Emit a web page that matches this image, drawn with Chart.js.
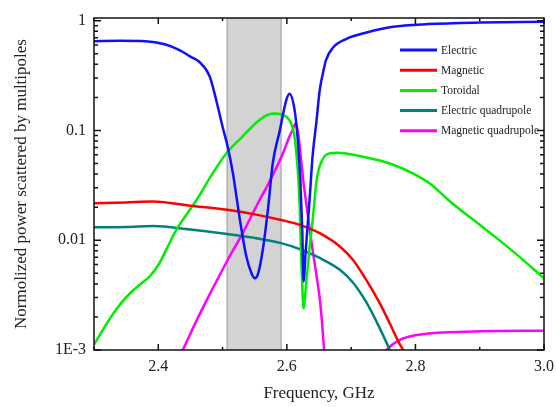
<!DOCTYPE html>
<html>
<head>
<meta charset="utf-8">
<script src="https://cdn.jsdelivr.net/npm/chart.js@4.4.1/dist/chart.umd.min.js"></script>
<style>
  html, body { margin: 0; padding: 0; background: #fff; }
</style>
</head>
<body>
<canvas id="chart" width="556" height="407"></canvas>
<script>
// --- Data (frequency in GHz, normalized power) ---
const electricFreq = [2.30, 2.34, 2.38, 2.41, 2.433, 2.45, 2.464, 2.48, 2.49, 2.50, 2.508, 2.516, 2.527, 2.537, 2.545, 2.55, 2.555, 2.563, 2.571, 2.578, 2.589, 2.599, 2.604, 2.612, 2.617, 2.621, 2.624, 2.626, 2.629, 2.632, 2.635, 2.640, 2.646, 2.651, 2.656, 2.661, 2.672, 2.692, 2.724, 2.765, 2.82, 2.90, 3.00];
const electric = [0.65, 0.655, 0.65, 0.61, 0.54, 0.47, 0.42, 0.31, 0.19, 0.108, 0.071, 0.041, 0.0153, 0.0071, 0.0050, 0.0045, 0.0049, 0.0085, 0.020, 0.050, 0.10, 0.188, 0.216, 0.154, 0.082, 0.035, 0.012, 0.0042, 0.0075, 0.013, 0.022, 0.058, 0.12, 0.23, 0.33, 0.44, 0.57, 0.68, 0.78, 0.88, 0.93, 0.96, 0.975];

const magneticFreq = [2.30, 2.35, 2.392, 2.45, 2.507, 2.55, 2.591, 2.62, 2.651, 2.682, 2.703, 2.724, 2.744, 2.760, 2.775, 2.781, 2.79];
const magnetic = [0.0217, 0.0221, 0.0225, 0.0206, 0.0189, 0.0172, 0.0153, 0.0138, 0.0116, 0.0088, 0.0066, 0.0043, 0.0027, 0.00175, 0.00115, 0.001, 0.0008];

const toroidalFreq = [2.30, 2.324, 2.345, 2.361, 2.375, 2.387, 2.402, 2.415, 2.428, 2.445, 2.459, 2.485, 2.506, 2.531, 2.552, 2.568, 2.580, 2.592, 2.600, 2.606, 2.611, 2.615, 2.618, 2.620, 2.6215, 2.6235, 2.626, 2.630, 2.635, 2.640, 2.643, 2.646, 2.650, 2.654, 2.661, 2.677, 2.69, 2.718, 2.76, 2.796, 2.825, 2.852, 2.90, 2.926, 2.96, 3.00];
const toroidal = [0.00112, 0.0019, 0.0028, 0.0035, 0.0041, 0.0047, 0.0062, 0.0088, 0.0124, 0.0175, 0.023, 0.041, 0.062, 0.088, 0.117, 0.137, 0.143, 0.14, 0.132, 0.118, 0.095, 0.06, 0.035, 0.020, 0.0095, 0.0045, 0.0024, 0.004, 0.0082, 0.015, 0.023, 0.034, 0.045, 0.052, 0.060, 0.0625, 0.062, 0.0575, 0.050, 0.0406, 0.032, 0.023, 0.0138, 0.0105, 0.0072, 0.0045];

const eQuadFreq = [2.30, 2.35, 2.392, 2.45, 2.507, 2.55, 2.591, 2.62, 2.651, 2.682, 2.703, 2.724, 2.744, 2.760, 2.77];
const eQuad = [0.0131, 0.0132, 0.0135, 0.0125, 0.0114, 0.0105, 0.0094, 0.0083, 0.0069, 0.0054, 0.0041, 0.0027, 0.0016, 0.001, 0.0007];

// magnetic quadrupole leaves the plot and comes back, so it is two pieces
const mQuadFreqA = [2.425, 2.438, 2.464, 2.506, 2.532, 2.558, 2.568, 2.594, 2.604, 2.609, 2.614, 2.618, 2.622, 2.626, 2.630, 2.636, 2.641, 2.646, 2.651, 2.655, 2.658, 2.662];
const mQuadA = [0.0007, 0.001, 0.0021, 0.0063, 0.0118, 0.0235, 0.030, 0.062, 0.088, 0.101, 0.117, 0.09, 0.055, 0.033, 0.022, 0.012, 0.0075, 0.0048, 0.003, 0.0017, 0.001, 0.0006];
const mQuadFreqB = [2.745, 2.755, 2.775, 2.80, 2.85, 2.90, 3.00];
const mQuadB = [0.0008, 0.001, 0.00123, 0.00136, 0.00145, 0.00148, 0.0015];

const seriesNames = ['Electric', 'Magnetic', 'Toroidal', 'Electric quadrupole', 'Magnetic quadrupole'];
const seriesColors = ['#1010ff', '#ff0000', '#00ee00', '#008080', '#ff00ff'];

const bandRange = [2.507, 2.591];          // shaded frequency band
const xRange = [2.3, 3.0];
const yRange = [0.001, 1.057];
const xLabelTicks = [2.4, 2.6, 2.8, 3.0];
const xMinorTicks = [2.3, 2.4, 2.5, 2.6, 2.7, 2.8, 2.9, 3.0];
const yLabelTicks = [0.001, 0.01, 0.1, 1];
const yTickText = { 1: '1', 0.1: '0.1', 0.01: '0.01', 0.001: '1E-3' };

const SERIF = '"Liberation Serif", "Times New Roman", serif';

const toPoints = (xs, ys) => xs.map((f, i) => ({ x: f, y: ys[i] }));

function lineSet(label, xs, ys, color) {
    return {
        label: label,
        data: toPoints(xs, ys),
        borderColor: color,
        backgroundColor: color,
        borderWidth: 2.5,
        pointRadius: 0,
        cubicInterpolationMode: 'monotone',
        fill: false
    };
}

// band, frame, inward ticks and the in-plot legend
const decorations = {
    id: 'decorations',
    beforeDatasetsDraw(chart) {
        const { ctx, chartArea: a, scales: { x } } = chart;
        const x0 = x.getPixelForValue(bandRange[0]);
        const x1 = x.getPixelForValue(bandRange[1]);
        ctx.save();
        ctx.fillStyle = '#d3d3d3';
        ctx.fillRect(x0, a.top, x1 - x0, a.bottom - a.top);
        ctx.strokeStyle = '#999999';
        ctx.lineWidth = 1;
        ctx.beginPath();
        ctx.moveTo(x0, a.top); ctx.lineTo(x0, a.bottom);
        ctx.moveTo(x1, a.top); ctx.lineTo(x1, a.bottom);
        ctx.stroke();
        ctx.restore();
    },
    afterDraw(chart) {
        const { ctx, chartArea: a, scales: { x, y } } = chart;
        ctx.save();
        ctx.strokeStyle = '#111';
        ctx.lineWidth = 1.5;
        ctx.strokeRect(a.left, a.top, a.right - a.left, a.bottom - a.top);

        ctx.beginPath();
        xMinorTicks.forEach(v => {
            const px = x.getPixelForValue(v);
            const len = xLabelTicks.some(t => Math.abs(t - v) < 1e-6) ? 6 : 3;
            ctx.moveTo(px, a.bottom); ctx.lineTo(px, a.bottom - len);
            ctx.moveTo(px, a.top); ctx.lineTo(px, a.top + len);
        });
        for (let e = -3; e <= 0; e++) {
            for (let m = 1; m <= 9; m++) {
                const v = m * Math.pow(10, e);
                if (v < yRange[0] || v > yRange[1]) continue;
                const py = y.getPixelForValue(v);
                const len = m === 1 ? 7 : 4;
                ctx.moveTo(a.left, py); ctx.lineTo(a.left + len, py);
                ctx.moveTo(a.right, py); ctx.lineTo(a.right - len, py);
            }
        }
        ctx.stroke();

        // legend inside the plot, upper right
        const lx = a.right - 144;
        const ly = a.top + 32;
        ctx.font = '11.5px ' + SERIF;
        ctx.textBaseline = 'middle';
        ctx.textAlign = 'left';
        seriesNames.forEach((name, i) => {
            const yy = ly + i * 20.2;
            ctx.strokeStyle = seriesColors[i];
            ctx.lineWidth = 3;
            ctx.beginPath();
            ctx.moveTo(lx, yy); ctx.lineTo(lx + 37, yy);
            ctx.stroke();
            ctx.fillStyle = '#222';
            ctx.fillText(name, lx + 41, yy + 0.5);
        });
        ctx.restore();
    }
};

new Chart(document.getElementById('chart'), {
    type: 'line',
    data: {
        datasets: [
            lineSet(seriesNames[0], electricFreq, electric, seriesColors[0]),
            lineSet(seriesNames[1], magneticFreq, magnetic, seriesColors[1]),
            lineSet(seriesNames[2], toroidalFreq, toroidal, seriesColors[2]),
            lineSet(seriesNames[3], eQuadFreq, eQuad, seriesColors[3]),
            lineSet(seriesNames[4], mQuadFreqA, mQuadA, seriesColors[4]),
            lineSet(seriesNames[4], mQuadFreqB, mQuadB, seriesColors[4])
        ]
    },
    options: {
        responsive: false,
        animation: false,
        layout: { padding: { top: 18, right: 12, left: 0, bottom: 0 } },
        plugins: {
            legend: { display: false },
            tooltip: { enabled: false }
        },
        scales: {
            x: {
                type: 'linear',
                min: xRange[0],
                max: xRange[1],
                afterBuildTicks: (scale) => { scale.ticks = xLabelTicks.map(v => ({ value: v })); },
                afterFit: (scale) => {
                    scale.height = 57;
                    scale.paddingLeft = 0;
                    scale.paddingRight = 0;
                },
                grid: { display: false, drawTicks: false },
                border: { display: false },
                ticks: {
                    autoSkip: false,
                    maxRotation: 0,
                    padding: 7,
                    color: '#222',
                    font: { family: SERIF, size: 16 },
                    callback: (v) => Number(v).toFixed(1)
                },
                title: {
                    display: true,
                    text: 'Frequency, GHz',
                    color: '#222',
                    font: { family: SERIF, size: 17 },
                    padding: { top: 0, bottom: 3 }
                }
            },
            y: {
                type: 'logarithmic',
                min: yRange[0],
                max: yRange[1],
                afterBuildTicks: (scale) => { scale.ticks = yLabelTicks.map(v => ({ value: v })); },
                afterFit: (scale) => {
                    scale.width = 94;
                    scale.paddingTop = 0;
                    scale.paddingBottom = 0;
                },
                grid: { display: false, drawTicks: false },
                border: { display: false },
                ticks: {
                    autoSkip: false,
                    padding: 8,
                    color: '#222',
                    font: { family: SERIF, size: 16 },
                    callback: (v) => yTickText[v] || ''
                },
                title: {
                    display: true,
                    text: 'Normolized power scattered by multipoles',
                    color: '#222',
                    font: { family: SERIF, size: 17 },
                    padding: { top: 11, bottom: 0 }
                }
            }
        }
    },
    plugins: [decorations]
});
</script>
</body>
</html>
